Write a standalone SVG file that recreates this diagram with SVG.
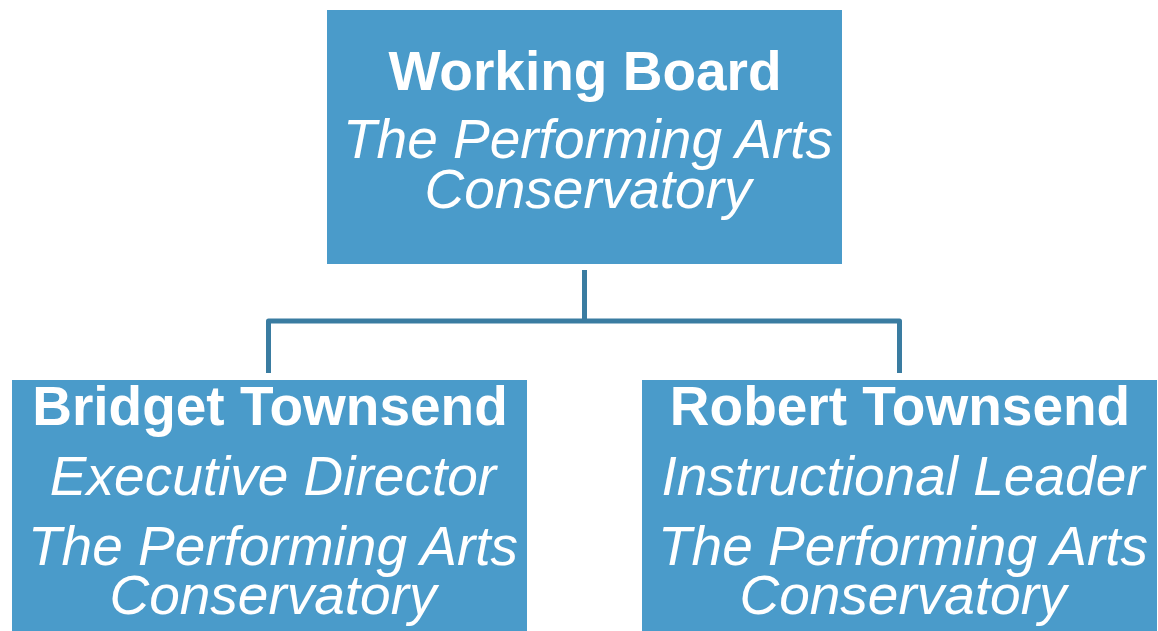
<svg xmlns="http://www.w3.org/2000/svg" width="1158" height="631" viewBox="0 0 1158 631">
<style>
.box{fill:#4a9bca}
.t{font-family:"Liberation Sans",Arial,sans-serif;font-size:55px;fill:#ffffff;text-anchor:middle}
.b{font-weight:bold}
.i{font-style:italic}
.c{fill:none;stroke:#3a7ca1;stroke-width:5;stroke-linejoin:round;stroke-linecap:butt}
</style>
<rect width="1158" height="631" fill="#ffffff"/>
<g id="connectors">
<path class="c" d="M584.5,270 V321 M268.5,373 V321 H899.5 V373"/>
</g>
<g id="node-board">
<rect class="box" x="327" y="10" width="515" height="254"/>
<text class="t b" x="585" y="90">Working Board</text>
<text class="t i" x="588" y="158">The Performing Arts</text>
<text class="t i" x="588" y="208">Conservatory</text>
</g>
<g id="node-bridget">
<rect class="box" x="12" y="380" width="515" height="251"/>
<text class="t b" x="270" y="425">Bridget Townsend</text>
<text class="t i" x="273" y="495">Executive Director</text>
<text class="t i" x="273" y="565">The Performing Arts</text>
<text class="t i" x="273" y="614">Conservatory</text>
</g>
<g id="node-robert">
<rect class="box" x="642" y="380" width="515" height="251"/>
<text class="t b" x="900" y="425">Robert Townsend</text>
<text class="t i" x="903" y="495">Instructional Leader</text>
<text class="t i" x="903" y="565">The Performing Arts</text>
<text class="t i" x="903" y="614">Conservatory</text>
</g>
</svg>
